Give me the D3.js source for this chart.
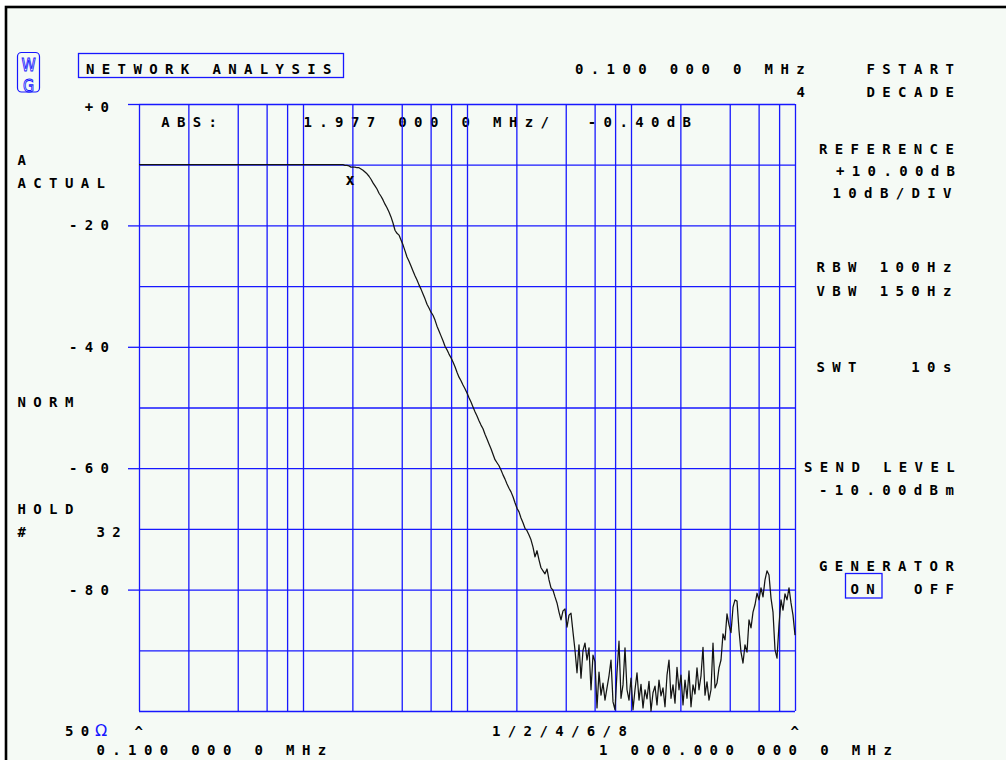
<!DOCTYPE html>
<html>
<head>
<meta charset="utf-8">
<script src="https://cdn.jsdelivr.net/npm/d3@7"></script>
<style>
  html, body { margin: 0; padding: 0; background: #ffffff; }
  svg { display: block; }
  .t { font-family: "DejaVu Sans Mono", "Liberation Mono", monospace; font-weight: bold;
       font-size: 14px; letter-spacing: 7.37px; fill: #000; white-space: pre; }
  .logo { writing-mode: vertical-rl; text-orientation: upright; }
</style>
</head>
<body>
<svg id="chart" width="1006" height="760"></svg>
<script>
// ---- sweep settings ----
const fStartMHz = 0.1;
const decades = 4;
const sweepPoints = 329;
const referenceDb = 10;      // reference level (+10.00 dB) sits at the top line
const dbPerDiv = 10;

// ---- grid ----
const freqGridMHz = [0.1, 0.2, 0.4, 0.6, 0.8,
                     1, 2, 4, 6, 8,
                     10, 20, 40, 60, 80,
                     100, 200, 400, 600, 800, 1000];
const levelGridDiv = [0, -10, -20, -30, -40, -50, -60, -70, -80, -90, -100];
const levelLabelDiv = [0, -20, -40, -60, -80];
const levelLabelText = ["+0", "-20", "-40", "-60", "-80"];

// ---- measured trace, dB (absolute), one value per sweep point ----
const passbandDb = [
  0.0,0.0,0.0,0.0,0.0,0.0,0.0,0.0,0.0,0.0,0.0,0.0,0.0,0.0,0.0,0.0,0.0,0.0,0.0,0.0,
  0.0,0.0,0.0,0.0,0.0,0.0,0.0,0.0,0.0,0.0,0.0,0.0,0.0,0.0,0.0,0.0,0.0,0.0,0.0,0.0,
  0.0,0.0,0.0,0.0,0.0,0.0,0.0,0.0,0.0,0.0,0.0,0.0,0.0,0.0,0.0,0.0,0.0,0.0,0.0,0.0,
  0.0,0.0,0.0,0.0,0.0,0.0,0.0,0.0,0.0,0.0,0.0,0.0,0.0,0.0,0.0,0.0,0.0,0.0,0.0,0.0,
  0.0,0.0,0.0,0.0,0.0,0.0,0.0,0.0,0.0,0.0,0.0,0.0,0.0,0.0,0.0,0.0,0.0,0.0,0.0,0.0,
  0.0,0.0,0.0,-0.1,-0.1,-0.2
];
const rolloffDb = [
  -0.4,-0.4,-0.4,-0.5,-0.5,-0.7,-0.9,-1.2,-1.5,-1.9,
  -2.4,-3.0,-3.5,-4.0,-4.7,-5.2,-5.8,-6.5,-7.1,-7.8,
  -8.6,-9.6,-10.8,-11.3,-11.6,-12.4,-13.2,-14.2,-15.2,-15.9,
  -16.7,-17.5,-18.3,-19.0,-19.8,-20.5,-21.3,-22.1,-23.0,-23.6,
  -24.3,-24.8,-25.6,-26.6,-27.4,-28.2,-29.0,-29.9,-30.5,-31.2,
  -31.8,-32.5,-33.3,-34.2,-35.0,-35.6,-36.3,-36.9,-37.6,-38.4,
  -39.1,-39.9,-40.7,-41.4,-42.2,-42.9,-43.5,-44.4,-45.2,-46.0,
  -46.8,-47.7,-48.6,-49.1,-49.6,-50.3,-51.1,-51.8,-52.6,-53.3,
  -53.9,-54.7,-55.7,-56.6,-57.2,-58.2,-59.0,-59.9,-60.3,-61.0,
  -61.8,-63.0,-64.6,-63.6,-65.1,-66.4,-66.9,-67.4,-66.6,-68.4,
  -69.7,-70.1,-71.2,-72.2,-73.7,-75.0,-73.5,-73.2,-76.2,-74.2,
  -73.9,-77.0,-80.0,-83.7,-79.1,-84.6,-80.0,-78.8,-81.6
];
const stopbandDb = [
  -79.6,-86.5,-80.8,-81.9,-89.5,-83.6,-87.4,-85.4,-88.2,-86.2,
  -84.2,-81.6,-88.5,-89.8,-83.6,-78.5,-87.9,-85.7,-79.6,-86.5,
  -88.2,-84.6,-89.8,-86.5,-83.7,-88.2,-85.6,-89.5,-86.5,-88.0,
  -85.1,-90.0,-87.0,-85.9,-89.0,-84.9,-87.5,-86.2,-89.3,-84.1,
  -81.6,-87.9,-85.7,-88.7,-82.8,-86.5,-84.1,-89.0,-84.9,-87.9,
  -83.4,-89.3,-85.7,-87.2,-82.9,-86.5,-84.2,-79.5,-87.4,-85.2,
  -88.2,-86.5,-78.8,-86.2,-85.4,-82.9,-81.6,-77.3,-78.3,-74.0,
  -75.8,-77.1,-72.9,-71.7,-71.9,-76.7,-80.3,-82.1,-79.1,-80.3,
  -75.0,-76.3,-73.7,-72.5,-70.6,-71.7,-69.7,-71.2,-68.4,-66.9,
  -67.6,-71.4,-73.7,-79.9,-81.3,-75.8,-71.7,-73.4,-70.7,-71.7,
  -69.7,-72.2,-74.2,-77.5
];
const traceDb = passbandDb.concat(rolloffDb, stopbandDb);

// ---- marker ----
const markerFreqMHz = 1.977;
const markerLevelDb = -0.40;

// ---- layout ----
const plot = { left: 139, right: 795, top: 104, bottom: 711 };
const PITCH = 15.8;      // character cell of the screen font
const INK = 8;           // visible glyph width inside a cell
const GRID_BLUE = "#1717ff";

const svg = d3.select("#chart");

// sweep frequencies: log-spaced points from FSTART over the decades
const sweepFreqMHz = d3.range(sweepPoints).map(i => fStartMHz * Math.pow(10, decades * i / (sweepPoints - 1)));

const x = d3.scaleLog()
  .domain([fStartMHz, fStartMHz * Math.pow(10, decades)])
  .range([plot.left, plot.right]);
const y = d3.scaleLinear()
  .domain([-10 * dbPerDiv, 0])
  .range([plot.bottom, plot.top]);

// screen frame
svg.append("rect")
  .attr("x", 6).attr("y", 7).attr("width", 1100).attr("height", 900)
  .attr("fill", "#f5faf5").attr("stroke", "#000").attr("stroke-width", 2.6);

function txt(px, py, s, cls) {
  return svg.append("text").attr("class", cls || "t")
    .attr("xml:space", "preserve")
    .attr("x", px).attr("y", py).text(s);
}

// marker readout (sits under the grid)
txt(161.2, 127, "ABS:");
txt(303.5, 127, `${markerFreqMHz.toFixed(3)} 000 0 MHz/`);
txt(587.8, 127, `${markerLevelDb.toFixed(2)}dB`);

// vertical grid lines
const gx = svg.append("g")
  .attr("transform", `translate(0,${plot.bottom})`)
  .call(d3.axisBottom(x).tickValues(freqGridMHz).tickSize(-(plot.bottom - plot.top)).tickFormat(""));
gx.select(".domain").remove();
gx.selectAll("line").attr("stroke", GRID_BLUE).attr("stroke-width", 1.3);

// horizontal grid lines
const gy = svg.append("g")
  .attr("transform", `translate(${plot.left},0)`)
  .call(d3.axisLeft(y).tickValues(levelGridDiv).tickSize(-(plot.right - plot.left)).tickFormat(""));
gy.select(".domain").remove();
gy.selectAll("line").attr("stroke", GRID_BLUE).attr("stroke-width", 1.3);

// labelled level ticks with their short extensions to the left
const gl = svg.append("g")
  .attr("transform", `translate(${plot.left},0)`)
  .call(d3.axisLeft(y).tickValues(levelLabelDiv).tickSize(11)
        .tickFormat((d, i) => levelLabelText[i]));
gl.select(".domain").remove();
gl.selectAll("line").attr("stroke", GRID_BLUE).attr("stroke-width", 1.3);
gl.selectAll("text")
  .attr("class", "t")
  .attr("fill", null)
  .attr("font-size", null).attr("font-family", null)
  .attr("text-anchor", "start")
  .attr("dy", null)
  .attr("x", function () {
    const n = this.textContent.length;
    return 108.5 - plot.left - ((n - 1) * PITCH + INK);
  })
  .attr("y", d => (d === 0 ? 7.5 : 4.5));

// measured trace
const line = d3.line()
  .x((d, i) => x(sweepFreqMHz[i]))
  .y(d => y(d - referenceDb));
svg.append("path")
  .datum(traceDb)
  .attr("d", line)
  .attr("fill", "none")
  .attr("stroke", "#141414")
  .attr("stroke-width", 1.25)
  .attr("stroke-linejoin", "round");

// marker symbol
svg.append("text")
  .attr("x", x(markerFreqMHz) - 1.5)
  .attr("y", y(markerLevelDb - referenceDb) + 18)
  .attr("text-anchor", "middle")
  .attr("font-family", "DejaVu Sans Mono, monospace")
  .attr("font-weight", "bold")
  .attr("font-size", 15)
  .text("x");

// WG logo: stacked outline letters in a rounded box
svg.append("rect")
  .attr("x", 17.5).attr("y", 52.5).attr("width", 22).attr("height", 39.5).attr("rx", 4)
  .attr("fill", "none").attr("stroke", GRID_BLUE).attr("stroke-width", 1.2);
svg.append("g")
  .attr("transform", "translate(28.5,54) scale(1.15,1.45)")
  .append("text")
  .attr("class", "logo")
  .attr("x", 0).attr("y", 0)
  .attr("font-family", "DejaVu Sans, sans-serif").attr("font-size", 12.5)
  .attr("fill", "none").attr("stroke", GRID_BLUE).attr("stroke-width", 0.7)
  .text("WG");

// title
svg.append("rect")
  .attr("x", 78.5).attr("y", 53.5).attr("width", 265).attr("height", 24)
  .attr("fill", "none").attr("stroke", GRID_BLUE).attr("stroke-width", 1.3);
txt(86, 73.5, "NETWORK ANALYSIS");

// top right: start frequency and span
txt(575, 73.5, "0.100 000 0 MHz");
txt(866.5, 73.5, "FSTART");
txt(796.5, 96.5, String(decades));
txt(866.5, 96.5, "DECADE");

// left annotations
txt(17.5, 164.5, "A");
txt(17.5, 187.5, "ACTUAL");
txt(17.5, 407, "NORM");
txt(17.5, 513.5, "HOLD");
txt(17.5, 537, "#");
txt(96.5, 537, "32");

// right column settings
txt(819, 154, "REFERENCE");
txt(836, 175.5, "+" + referenceDb.toFixed(2) + "dB");
txt(832.5, 197.5, dbPerDiv + "dB/DIV");
txt(816.5, 272, "RBW 100Hz");
txt(816.5, 295.5, "VBW 150Hz");
txt(816.5, 372, "SWT   10s");
txt(804, 472, "SEND LEVEL");
txt(819, 494.5, "-10.00dBm");
txt(819, 570.5, "GENERATOR");
svg.append("rect")
  .attr("x", 845.5).attr("y", 573.5).attr("width", 36.5).attr("height", 24.5)
  .attr("fill", "none").attr("stroke", GRID_BLUE).attr("stroke-width", 1.3);
txt(850.5, 593.5, "ON");
txt(914, 593.5, "OFF");

// bottom: impedance, frequency axis ends and grid pattern
txt(65, 735.5, "50");
svg.append("text")
  .attr("x", 95).attr("y", 736)
  .attr("font-family", "DejaVu Sans, sans-serif").attr("font-size", 16)
  .attr("fill", GRID_BLUE).text("Ω");
txt(x(fStartMHz) - 4.5, 737, "^");
txt(x(fStartMHz * Math.pow(10, decades)) - 4.5, 737, "^");
txt(96.5, 754.5, "0.100 000 0 MHz");
txt(492, 735.5, "1/2/4/6/8");
txt(599, 754.5, "1 000.000 000 0 MHz");
</script>
</body>
</html>
